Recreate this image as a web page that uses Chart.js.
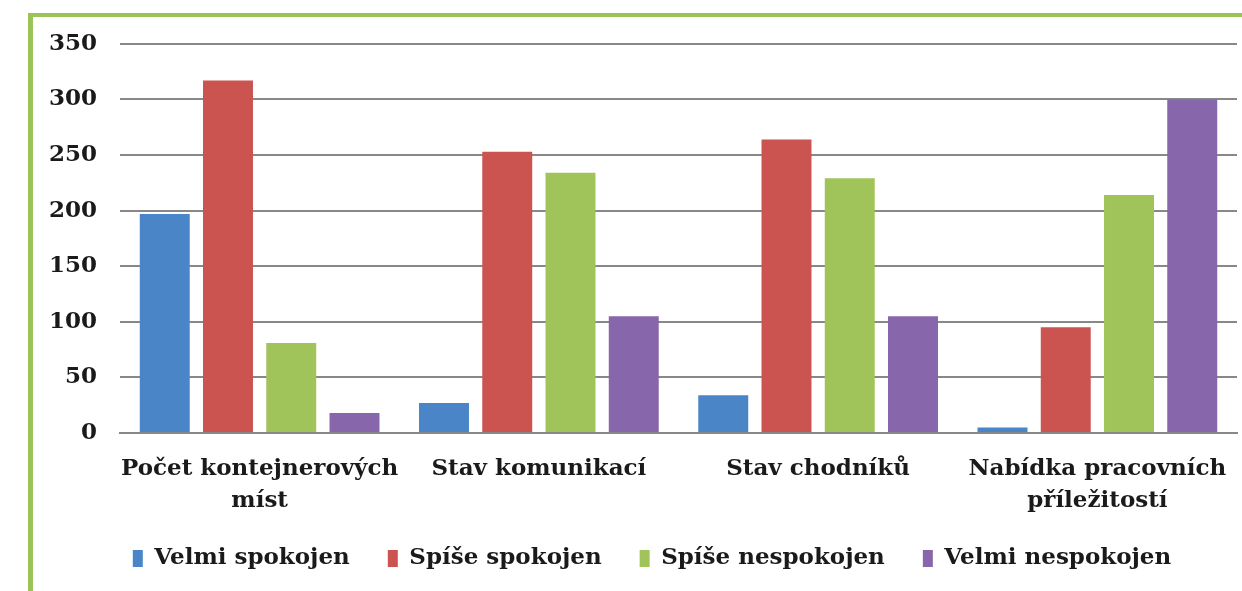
<!DOCTYPE html>
<html>
<head>
<meta charset="utf-8">
<script src="https://cdn.jsdelivr.net/npm/chart.js@4/dist/chart.umd.min.js"></script>
<style>
  html, body { margin: 0; padding: 0; background: #fff; overflow: hidden; }
  #myChart { position: absolute; left: 33px; top: 7px; }
  /* green frame sits on top of the canvas */
  #frame {
    position: absolute; left: 28px; top: 13px;
    width: 1214px; height: 578px;
    border-left: 5px solid #9bc357; border-top: 4px solid #9bc357;
    pointer-events: none;
  }
</style>
</head>
<body>
<canvas id="myChart" width="1209" height="584"></canvas>
<div id="frame"></div>
<script>
var categories = [['Počet kontejnerových', 'míst'], 'Stav komunikací', 'Stav chodníků', ['Nabídka pracovních', 'příležitostí']];
var velmiSpokojen = [197, 27, 34, 5];
var spiseSpokojen = [317, 253, 264, 95];
var spiseNespokojen = [81, 234, 229, 214];
var velmiNespokojen = [18, 105, 105, 300];
var yTicks = [0, 50, 100, 150, 200, 250, 300, 350];

var labelFont = { family: 'DejaVu Serif', weight: 'bold', size: 23 };

function ds(label, data, color) {
  return {
    label: label,
    data: data,
    backgroundColor: color,
    borderWidth: 0,
    barPercentage: 0.79,
    categoryPercentage: 0.906
  };
}

// move the legend a little right and up, so the two-line
// category labels get the full height of the x axis box
var legendShift = {
  id: 'legendShift',
  afterLayout: function (chart) {
    var lg = chart.legend;
    lg.left += 17;
    lg.right += 17;
    lg.top -= 11;
    lg.bottom -= 11;
  }
};

var ctx = document.getElementById('myChart').getContext('2d');
var myChart = new Chart(ctx, {
  type: 'bar',
  data: {
    labels: categories,
    datasets: [
      ds('Velmi spokojen', velmiSpokojen, '#4a85c7'),
      ds('Spíše spokojen', spiseSpokojen, '#cb5350'),
      ds('Spíše nespokojen', spiseNespokojen, '#a1c45a'),
      ds('Velmi nespokojen', velmiNespokojen, '#8766ac')
    ]
  },
  plugins: [legendShift],
  options: {
    responsive: false,
    animation: false,
    layout: { padding: { top: 0, right: 5, bottom: 0, left: 0 } },
    plugins: {
      tooltip: { enabled: false },
      legend: {
        position: 'bottom',
        labels: {
          color: '#1a1a1a',
          font: labelFont,
          boxWidth: 10,
          boxHeight: 17,
          padding: 38
        }
      }
    },
    scales: {
      x: {
        grid: { display: false },
        border: { display: true, color: '#888', width: 2 },
        ticks: {
          color: '#1a1a1a',
          font: Object.assign({}, labelFont, { lineHeight: 1.4 }),
          padding: 12,
          maxRotation: 0,
          autoSkip: false
        },
        afterFit: function (scale) { scale.height = 87; }
      },
      y: {
        min: 0,
        max: 350,
        afterBuildTicks: function (scale) {
          scale.ticks = yTicks.map(function (v) { return { value: v }; });
        },
        grid: { color: '#888', lineWidth: 2, drawTicks: false },
        border: { display: false },
        ticks: {
          color: '#1a1a1a',
          font: labelFont,
          padding: 23
        },
        afterFit: function (scale) { scale.width = 87; }
      }
    }
  }
});
</script>
</body>
</html>
